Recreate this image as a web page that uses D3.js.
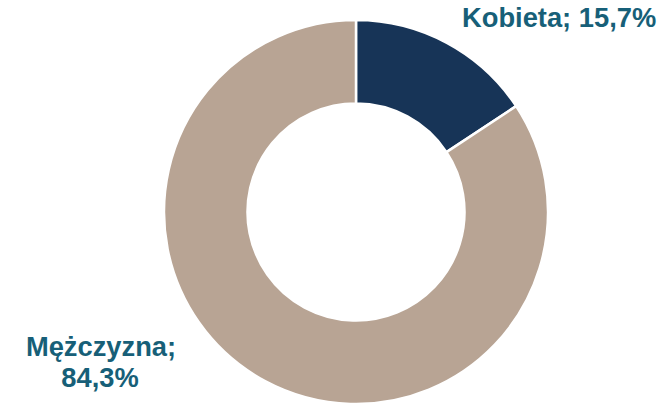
<!DOCTYPE html>
<html><head><meta charset="utf-8">
<script src="https://cdn.jsdelivr.net/npm/d3@7"></script>
<style>html,body{margin:0;padding:0;background:#fff;}svg{display:block;}</style>
</head><body>
<script>
const categories = ["Kobieta", "Mężczyzna"];
const values = [15.7, 84.3];
const labels = ["15,7%", "84,3%"];
const colors = ["#173457", "#b8a494"];

const W = 669, H = 406;
const cx = 356, cy = 212, rOuter = 192, rInner = 108.5;
const svg = d3.select("body").append("svg").attr("width", W).attr("height", H);
const g = svg.append("g").attr("transform", `translate(${cx},${cy})`);
const pie = d3.pie().sort(null).value(d => d)(values);
const arc = d3.arc().innerRadius(rInner).outerRadius(rOuter);
g.selectAll("path").data(pie).join("path")
  .attr("d", arc)
  .attr("fill", (d, i) => colors[i])
  .attr("stroke", "#fff").attr("stroke-width", 2.5);

const font = "'Liberation Sans', Arial, sans-serif";
const tc = "#175f78";
const fs = 27.3;
svg.append("text").attr("x", 462).attr("y", 27)
  .attr("font-family", font).attr("font-weight", "bold").attr("font-size", fs)
  .attr("fill", tc).text(categories[0] + "; " + labels[0]);
const t2 = svg.append("text").attr("text-anchor", "middle")
  .attr("font-family", font).attr("font-weight", "bold").attr("font-size", fs)
  .attr("fill", tc);
t2.append("tspan").attr("x", 101).attr("y", 356).text(categories[1] + ";");
t2.append("tspan").attr("x", 100).attr("y", 387).text(labels[1]);
</script>
</body></html>
